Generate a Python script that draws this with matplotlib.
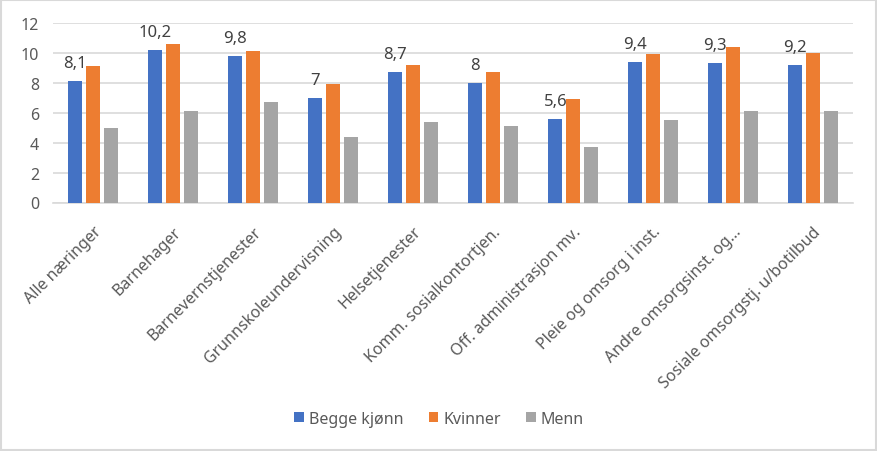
import numpy as np
import matplotlib.pyplot as plt
from matplotlib.patches import Rectangle

plt.rcParams['font.family'] = ['Noto Sans', 'DejaVu Sans']

# Data
categories = ['Alle næringer', 'Barnehager', 'Barnevernstjenester', 'Grunnskoleundervisning',
              'Helsetjenester', 'Komm. sosialkontortjen.', 'Off. administrasjon mv.',
              'Pleie og omsorg i inst.', 'Andre omsorgsinst. og...', 'Sosiale omsorgstj. u/botilbud']
begge = [8.1, 10.2, 9.8, 7.0, 8.7, 8.0, 5.6, 9.4, 9.3, 9.2]
kvinner = [9.1, 10.6, 10.1, 7.9, 9.2, 8.7, 6.9, 9.9, 10.4, 10.0]
menn = [5.0, 6.1, 6.7, 4.4, 5.4, 5.1, 3.7, 5.5, 6.1, 6.1]
series_names = ['Begge kjønn', 'Kvinner', 'Menn']
colors = ['#4472C4', '#ED7D31', '#A5A5A5']
text_col = '#595959'

fig = plt.figure(figsize=(8.78, 4.52), dpi=100)
ax = fig.add_axes([53 / 878, 1 - 203.5 / 452, 800 / 878, 179.5 / 452])

x = np.arange(len(categories))
w = 0.175
off = 0.22
for i, (vals, name) in enumerate(zip([begge, kvinner, menn], series_names)):
    ax.bar(x + (i - 1) * off, vals, w, color=colors[i], label=name, zorder=3)

# data labels only for the first series
for xi, v in zip(x - off, begge):
    lbl = ('%g' % v).replace('.', ',')
    ax.annotate(lbl, (xi, v), xytext=(0, 10), textcoords='offset points',
                ha='center', va='baseline', fontsize=12, color='#404040')

ax.set_xlim(-0.5, len(categories) - 0.5)
ax.set_ylim(0, 12)
ax.set_yticks(range(0, 13, 2))
ax.grid(axis='y', color='#D9D9D9', linewidth=1.2, zorder=0)
for s in ['top', 'right', 'left']:
    ax.spines[s].set_visible(False)
ax.spines['bottom'].set_color('#D9D9D9')
ax.spines['bottom'].set_linewidth(1.2)
ax.tick_params(length=0, colors=text_col, labelsize=11.5)
ax.tick_params(axis='y', pad=10)
ax.set_xticks(x)
ax.set_xticklabels(categories, rotation=45, ha='right', va='top',
                   rotation_mode='anchor', fontsize=11.5, color=text_col)
ax.tick_params(axis='x', pad=15)

leg = fig.legend(loc='center', bbox_to_anchor=(0.5, 1 - 420 / 452), ncol=3, frameon=False,
                 fontsize=11.5, handlelength=0.6, handleheight=0.6, handletextpad=0.3,
                 columnspacing=1.6)
for t in leg.get_texts():
    t.set_color(text_col)

# chart border
fig.patches.append(Rectangle((0.001, 0.002), 0.997, 0.995, transform=fig.transFigure,
                             fill=False, edgecolor='#D9D9D9', linewidth=1.5))

fig.savefig('out.png', dpi=100)
